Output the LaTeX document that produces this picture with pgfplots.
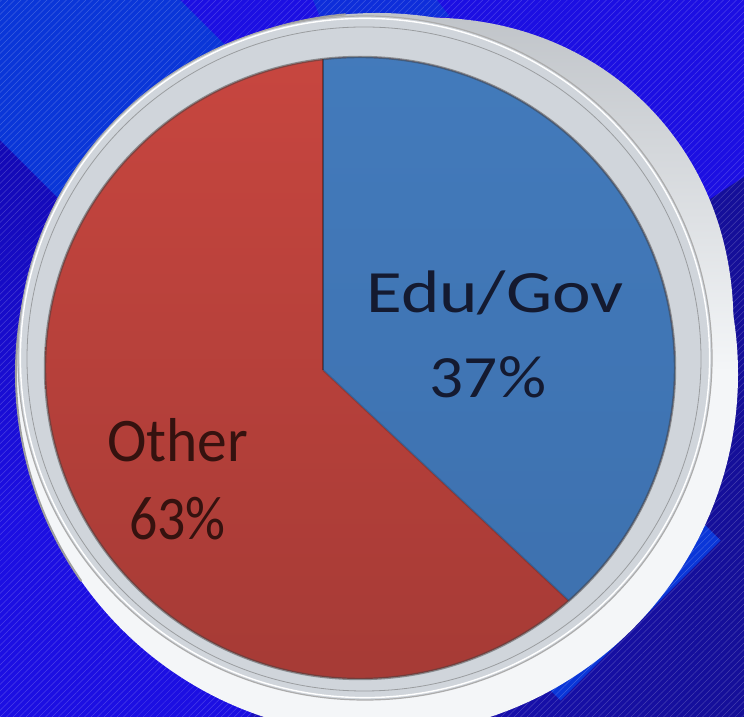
\documentclass[border=0pt]{standalone}
\usepackage{fontspec}
\setmainfont{Carlito}
\usepackage{pgfplots}
\usepackage{pgfplotstable}
\pgfplotsset{compat=1.18}
\usetikzlibrary{patterns.meta}

\definecolor{bgbright}{HTML}{1C0FE2}
\definecolor{bgnavy}{HTML}{150F98}
\definecolor{bgnavyL}{HTML}{1309B4}
\definecolor{bgroyal}{HTML}{0A36D8}
\definecolor{rimface}{HTML}{D0D5DB}
\definecolor{rimside}{HTML}{F4F6F8}
\definecolor{rimtop}{HTML}{BEC2C7}
\definecolor{blueT}{HTML}{4884C8}
\definecolor{blueB}{HTML}{3A6BA7}
\definecolor{redT}{HTML}{CA4740}
\definecolor{redB}{HTML}{A43A35}
\definecolor{txtblue}{HTML}{141A30}
\definecolor{txtred}{HTML}{35120F}

\pgfplotstableread{
label value
Edu/Gov 37
Other 63
}\piedata
\pgfplotstablegetelem{0}{value}\of\piedata
\pgfmathsetmacro\aend{90-3.6*\pgfplotsretval}
\pgfmathsetmacro\amid{(90+\aend)/2}

\begin{document}
\begin{tikzpicture}
\begin{axis}[width=372pt, height=358.5pt, scale only axis,
  xmin=0, xmax=744, ymin=0, ymax=717, axis lines=none, ticks=none]
% background
\fill[bgbright] (axis cs:0,0) rectangle (axis cs:744,717);
\shade[top color=bgnavyL, bottom color=bgbright] (axis cs:0,577) -- (axis cs:300,277) -- (axis cs:0,200) -- cycle;
\shade[left color=bgbright!50!bgnavy, right color=bgnavy] (axis cs:744,540) -- (axis cs:744,0) -- (axis cs:250,0) -- (axis cs:400,317) -- cycle;
\fill[bgroyal] (axis cs:0,717) -- (axis cs:180,717) -- (axis cs:720.5,176.5) -- (axis cs:560.5,16.5) -- (axis cs:0,577) -- cycle;
\fill[bgroyal!80!bgbright] (axis cs:313,717) -- (axis cs:437,717) -- (axis cs:450,700) -- (axis cs:320,700) -- cycle;
\fill[pattern={Lines[angle=45,distance=2.3pt,line width=0.25pt]}, pattern color=white, opacity=0.2] (axis cs:0,0) rectangle (axis cs:744,717);
% rim silhouette (3D side): circle plus a lobe towards the upper right
\begin{scope}
\clip (axis cs:377,343) circle [radius=180.5pt];
\shade[top color=rimtop, bottom color=rimside, middle color=rimside] (axis cs:0,-30) rectangle (axis cs:744,720);
\end{scope}
\begin{scope}
\clip (axis cs:377,0) rectangle (axis cs:744,717);
\clip[shift={(axis cs:377,343)}, rotate=45] (0,0) ellipse [x radius=190.5pt, y radius=165pt];
\shade[top color=rimtop, bottom color=rimside, middle color=rimside] (axis cs:0,-30) rectangle (axis cs:744,720);
\end{scope}
\draw[gray!75, line width=1pt] (axis cs:377,343) ++(95:180.5pt) arc[start angle=95, end angle=215, radius=180.5pt];
% rim face
\fill[rimface] (axis cs:365,359) ellipse [x radius=173.5pt, y radius=171pt];
\draw[gray!65, line width=0.6pt] (axis cs:365,359) ellipse [x radius=173.5pt, y radius=171pt];
\draw[white, line width=0.7pt] (axis cs:365,359) ellipse [x radius=172.3pt, y radius=169.8pt];
\draw[black!60, line width=0.4pt, opacity=0.5] (axis cs:364,358) ellipse [x radius=168.5pt, y radius=166pt];
% pie
\begin{scope}
\clip (axis cs:360,349) ellipse [x radius=157.5pt, y radius=155.5pt];
\shade[top color=redT, bottom color=redB] (axis cs:0,0) rectangle (axis cs:744,717);
\shade[top color=blueT, bottom color=blueB]
  (axis cs:323,347) -- (axis cs:{323+900*cos(90)},{347+900*sin(90)})
  -- (axis cs:{323+900*cos(\amid)},{347+900*sin(\amid)})
  -- (axis cs:{323+900*cos(\aend)},{347+900*sin(\aend)}) -- cycle;
\draw[black, opacity=0.35, line width=1pt] (axis cs:323,347) -- (axis cs:323,717);
\draw[black, opacity=0.15, line width=1pt] (axis cs:323,347) -- (axis cs:{323+900*cos(\aend)},{347+900*sin(\aend)});
\end{scope}
\draw[black!75, opacity=0.5, line width=1.2pt] (axis cs:360,349) ellipse [x radius=157.5pt, y radius=155.5pt];
% labels
\node[font=\fontsize{30}{30}\selectfont, text=txtblue, anchor=base, xscale=1.22] at (axis cs:495,404) {Edu/Gov};
\node[font=\fontsize{30}{30}\selectfont, text=txtblue, anchor=base, xscale=1.12] at (axis cs:488,319) {37\%};
\node[font=\fontsize{31}{31}\selectfont, text=txtred, anchor=base, xscale=0.96] at (axis cs:177.5,255) {Other};
\node[font=\fontsize{31}{31}\selectfont, text=txtred, anchor=base, xscale=0.9] at (axis cs:177.5,177) {63\%};
\end{axis}
\end{tikzpicture}
\end{document}
